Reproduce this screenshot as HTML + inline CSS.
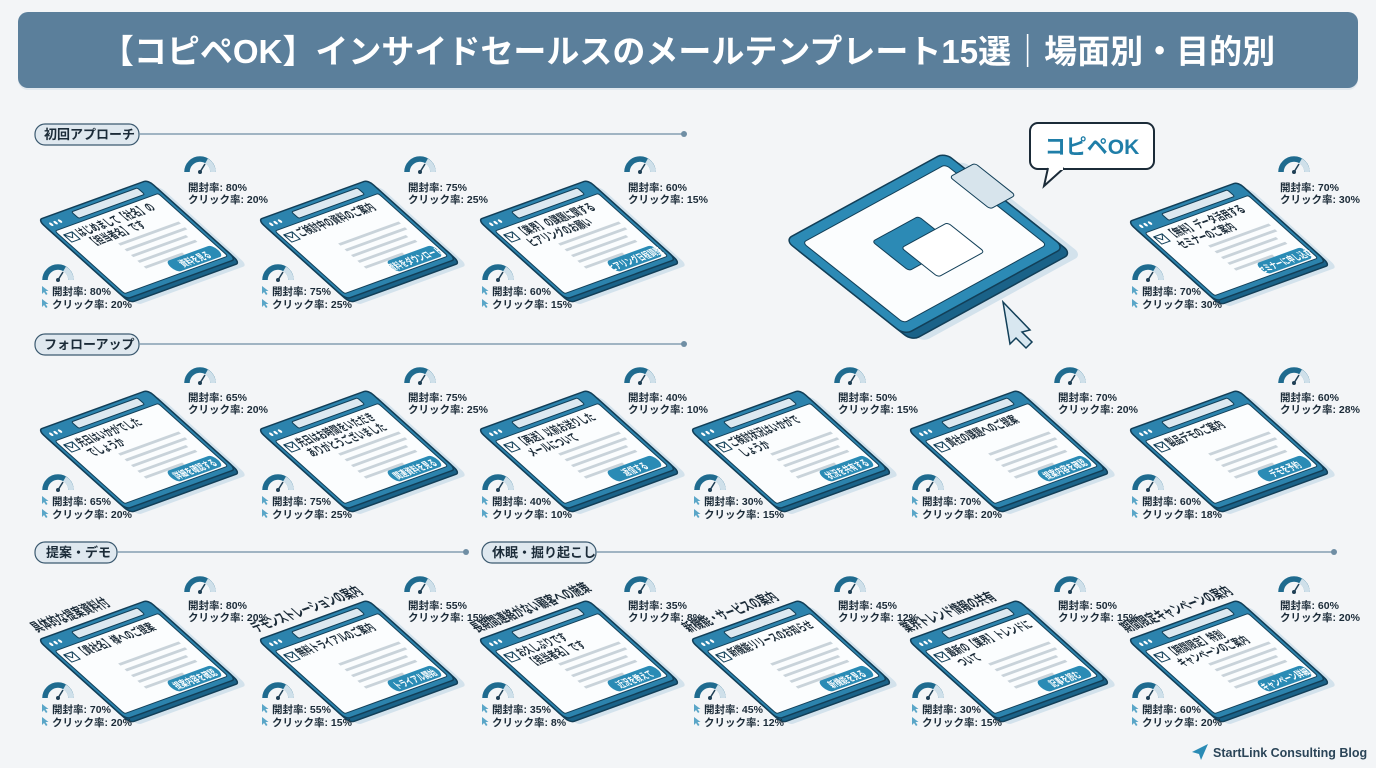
<!DOCTYPE html>
<html><head><meta charset="utf-8">
<style>
html,body{margin:0;padding:0;background:#f3f5f7;}
svg{display:block;font-family:"Liberation Sans","Noto Sans CJK JP",sans-serif;}
.st{font-size:10.5px;font-weight:bold;fill:#1b2b38;}
.sub{font-size:12.5px;font-weight:bold;fill:#1b2b38;}
.btn{font-size:10.5px;font-weight:bold;fill:#fff;}
.lab{font-size:13px;font-weight:bold;fill:#1b2b38;}
.ttl{font-size:15px;font-weight:bold;fill:#1b2b38;}
</style></head><body>
<svg width="1376" height="768" viewBox="0 0 1376 768" xmlns="http://www.w3.org/2000/svg">
<defs>
<g id="shell">
  <rect x="6" y="10" width="200" height="110" rx="7" fill="#d3e2ec"/>
  <rect x="0" y="5" width="200" height="110" rx="7" fill="#1a6288" stroke="#123f58" stroke-width="1.5" vector-effect="non-scaling-stroke"/>
  <rect x="0" y="0" width="200" height="110" rx="7" fill="#2c83ad" stroke="#123f58" stroke-width="1.5" vector-effect="non-scaling-stroke"/>
  <rect x="6" y="17" width="188" height="87" rx="3" fill="#fbfdfe" stroke="#123f58" stroke-width="1" vector-effect="non-scaling-stroke"/>
  <circle cx="11" cy="9" r="2.3" fill="#fff"/><circle cx="19" cy="9" r="2.3" fill="#fff"/><circle cx="27" cy="9" r="2.3" fill="#fff"/>
  <rect x="55" y="4" width="120" height="9" rx="2" fill="#dce8f0" stroke="#123f58" stroke-width="1" vector-effect="non-scaling-stroke"/>
  <rect x="12" y="24" width="15" height="10" fill="#fff" stroke="#123f58" stroke-width="1" vector-effect="non-scaling-stroke"/>
  <path d="M12 24 L19.5 30 L27 24" fill="none" stroke="#123f58" stroke-width="1" vector-effect="non-scaling-stroke"/>
  <g fill="#c9d3da"><rect x="70" y="52" width="110" height="3"/><rect x="70" y="60" width="110" height="3"/><rect x="70" y="68" width="100" height="3"/><rect x="70" y="76" width="105" height="3"/><rect x="70" y="84" width="70" height="3"/></g>
  <rect x="104" y="87" width="86" height="15" rx="7.5" fill="#2a8bb5"/>
</g>
<g id="gauge">
  <path d="M-13 0 A13 13 0 0 1 13 0" fill="none" stroke="#1f6b8f" stroke-width="5.5"/>
  <path d="M6.5 -11 A13 13 0 0 1 13 0" fill="none" stroke="#cfe0ea" stroke-width="5.5"/>
  <line x1="0" y1="0" x2="5" y2="-8" stroke="#1f3f55" stroke-width="1.5"/><circle cx="0" cy="0" r="2" fill="#1f3f55"/>
</g>
<path id="cur" d="M0 0 L0 8 L2 6 L4 9 L5.5 8 L3.5 5 L6.5 5Z" fill="#5aa6c8"/>
</defs>

<rect x="18" y="14" width="1340" height="76" rx="10" fill="#e1e8ee"/>
<rect x="18" y="12" width="1340" height="76" rx="10" fill="#5b7f9b"/>
<text x="688" y="63" text-anchor="middle" font-size="33" font-weight="bold" fill="#fff">【コピペOK】インサイドセールスのメールテンプレート15選｜場面別・目的別</text>

<g>
<rect x="35" y="124" width="104" height="21" rx="10" fill="#dfe8ef" stroke="#3c5a70" stroke-width="1.2"/>
<text x="44" y="139" class="lab">初回アプローチ</text>
<line x1="139" y1="134" x2="684" y2="134" stroke="#6f8ea4" stroke-width="1.2"/><circle cx="684" cy="134" r="3" fill="#6f8ea4"/>
<rect x="35" y="334" width="104" height="21" rx="10" fill="#dfe8ef" stroke="#3c5a70" stroke-width="1.2"/>
<text x="44" y="349" class="lab">フォローアップ</text>
<line x1="139" y1="344" x2="684" y2="344" stroke="#6f8ea4" stroke-width="1.2"/><circle cx="684" cy="344" r="3" fill="#6f8ea4"/>
<rect x="35" y="542" width="82" height="21" rx="10" fill="#dfe8ef" stroke="#3c5a70" stroke-width="1.2"/>
<text x="46" y="557" class="lab">提案・デモ</text>
<line x1="117" y1="552" x2="466" y2="552" stroke="#6f8ea4" stroke-width="1.2"/><circle cx="466" cy="552" r="3" fill="#6f8ea4"/>
<rect x="482" y="542" width="114" height="21" rx="10" fill="#dfe8ef" stroke="#3c5a70" stroke-width="1.2"/>
<text x="492" y="557" class="lab">休眠・掘り起こし</text>
<line x1="596" y1="552" x2="1334" y2="552" stroke="#6f8ea4" stroke-width="1.2"/><circle cx="1334" cy="552" r="3" fill="#6f8ea4"/>
</g>

<g transform="translate(785,240)">
 <g transform="matrix(0.84,-0.46,0.92,0.73,0,0)">
  <rect x="6" y="14" width="190" height="130" rx="8" fill="#d3e2ec"/>
  <rect x="0" y="8" width="190" height="130" rx="8" fill="#1a6288" stroke="#123f58" stroke-width="1.5" vector-effect="non-scaling-stroke"/>
  <rect x="0" y="0" width="190" height="130" rx="8" fill="#2c8ab5" stroke="#123f58" stroke-width="1.5" vector-effect="non-scaling-stroke"/>
  <rect x="10" y="10" width="170" height="110" rx="4" fill="#fbfdfe" stroke="#123f58" stroke-width="1" vector-effect="non-scaling-stroke"/>
  <rect x="172" y="22" width="30" height="44" rx="3" fill="#d7e4ec" stroke="#123f58" stroke-width="1" vector-effect="non-scaling-stroke"/>
  <rect x="60" y="40" width="55" height="40" rx="3" fill="#2c8ab5" stroke="#123f58" stroke-width="1" vector-effect="non-scaling-stroke"/>
  <rect x="75" y="58" width="55" height="40" rx="3" fill="#fff" stroke="#123f58" stroke-width="1" vector-effect="non-scaling-stroke"/>
 </g>
</g>
<path d="M1003 302 L1030 330 L1022 332 L1032 342 L1026 348 L1016 338 L1010 344 Z" fill="#d8e7f0" stroke="#123f58" stroke-width="1.5"/>
<rect x="1030" y="123" width="124" height="46" rx="8" fill="#fff" stroke="#1b2b38" stroke-width="2"/>
<path d="M1048 168 L1044 186 L1064 168" fill="#fff" stroke="#1b2b38" stroke-width="2"/>
<rect x="1049" y="166" width="14" height="4" fill="#fff"/>
<text x="1092" y="154" text-anchor="middle" font-size="21" font-weight="bold" fill="#1f7ea8">コピペOK</text>

<g transform="translate(38,220)"><g transform="matrix(0.55,-0.2,0.8,0.72,0,0)"><use href="#shell"/>
<text x="32" y="32" class="sub">はじめまして【社名】の</text><text x="32" y="46" class="sub">【担当者名】です</text><text x="147" y="99" class="btn" text-anchor="middle">資料を見る</text></g></g>
<g transform="translate(258,220)"><g transform="matrix(0.55,-0.2,0.8,0.72,0,0)"><use href="#shell"/>
<text x="32" y="32" class="sub">ご検討中の資料のご案内</text><text x="147" y="99" class="btn" text-anchor="middle">資料をダウンロード</text></g></g>
<g transform="translate(478,220)"><g transform="matrix(0.55,-0.2,0.8,0.72,0,0)"><use href="#shell"/>
<text x="32" y="32" class="sub">【業界】の課題に関する</text><text x="32" y="46" class="sub">ヒアリングのお願い</text><text x="147" y="99" class="btn" text-anchor="middle">ヒアリング日程調整</text></g></g>
<g transform="translate(1128,222)"><g transform="matrix(0.55,-0.2,0.8,0.72,0,0)"><use href="#shell"/>
<text x="32" y="32" class="sub">【無料】データ活用する</text><text x="32" y="46" class="sub">セミナーのご案内</text><text x="147" y="99" class="btn" text-anchor="middle">セミナーに申し込む</text></g></g>

<g transform="translate(38,430)"><g transform="matrix(0.55,-0.2,0.8,0.72,0,0)"><use href="#shell"/>
<text x="32" y="32" class="sub">先日はいかがでした</text><text x="32" y="46" class="sub">でしょうか</text><text x="147" y="99" class="btn" text-anchor="middle">詳細を確認する</text></g></g>
<g transform="translate(258,430)"><g transform="matrix(0.55,-0.2,0.8,0.72,0,0)"><use href="#shell"/>
<text x="32" y="32" class="sub">先日はお時間をいただき</text><text x="32" y="46" class="sub">ありがとうございました</text><text x="147" y="99" class="btn" text-anchor="middle">関連資料を見る</text></g></g>
<g transform="translate(478,430)"><g transform="matrix(0.55,-0.2,0.8,0.72,0,0)"><use href="#shell"/>
<text x="32" y="32" class="sub">【再送】以前お送りした</text><text x="32" y="46" class="sub">メールについて</text><text x="147" y="99" class="btn" text-anchor="middle">返信する</text></g></g>
<g transform="translate(690,430)"><g transform="matrix(0.55,-0.2,0.8,0.72,0,0)"><use href="#shell"/>
<text x="32" y="32" class="sub">ご検討状況はいかがで</text><text x="32" y="46" class="sub">しょうか</text><text x="147" y="99" class="btn" text-anchor="middle">状況を共有する</text></g></g>
<g transform="translate(908,430)"><g transform="matrix(0.55,-0.2,0.8,0.72,0,0)"><use href="#shell"/>
<text x="32" y="32" class="sub">貴社の課題へのご提案</text><text x="147" y="99" class="btn" text-anchor="middle">提案内容を確認</text></g></g>
<g transform="translate(1128,430)"><g transform="matrix(0.55,-0.2,0.8,0.72,0,0)"><use href="#shell"/>
<text x="32" y="32" class="sub">製品デモのご案内</text><text x="147" y="99" class="btn" text-anchor="middle">デモを予約</text></g></g>

<g transform="translate(38,640)"><g transform="matrix(0.55,-0.2,0.8,0.72,0,0)"><use href="#shell"/>
<text x="10" y="-8" class="ttl">具体的な提案資料付</text>
<text x="32" y="32" class="sub">【貴社名】様へのご提案</text><text x="147" y="99" class="btn" text-anchor="middle">提案内容を確認</text></g></g>
<g transform="translate(258,640)"><g transform="matrix(0.55,-0.2,0.8,0.72,0,0)"><use href="#shell"/>
<text x="10" y="-8" class="ttl">デモンストレーションの案内</text>
<text x="32" y="32" class="sub">無料トライアルのご案内</text><text x="147" y="99" class="btn" text-anchor="middle">トライアル開始</text></g></g>
<g transform="translate(478,640)"><g transform="matrix(0.55,-0.2,0.8,0.72,0,0)"><use href="#shell"/>
<text x="10" y="-8" class="ttl">長期間連絡がない顧客への施策</text>
<text x="32" y="32" class="sub">お久しぶりです</text><text x="32" y="46" class="sub">【担当者名】です</text><text x="147" y="99" class="btn" text-anchor="middle">近況を教えて</text></g></g>
<g transform="translate(690,640)"><g transform="matrix(0.55,-0.2,0.8,0.72,0,0)"><use href="#shell"/>
<text x="10" y="-8" class="ttl">新機能・サービスの案内</text>
<text x="32" y="32" class="sub">新機能リリースのお知らせ</text><text x="147" y="99" class="btn" text-anchor="middle">新機能を見る</text></g></g>
<g transform="translate(908,640)"><g transform="matrix(0.55,-0.2,0.8,0.72,0,0)"><use href="#shell"/>
<text x="10" y="-8" class="ttl">業界トレンド情報の共有</text>
<text x="32" y="32" class="sub">最新の【業界】トレンドに</text><text x="32" y="46" class="sub">ついて</text><text x="147" y="99" class="btn" text-anchor="middle">記事を読む</text></g></g>
<g transform="translate(1128,640)"><g transform="matrix(0.55,-0.2,0.8,0.72,0,0)"><use href="#shell"/>
<text x="10" y="-8" class="ttl">期間限定キャンペーンの案内</text>
<text x="32" y="32" class="sub">【期間限定】特別</text><text x="32" y="46" class="sub">キャンペーンのご案内</text><text x="147" y="99" class="btn" text-anchor="middle">キャンペーン詳細</text></g></g>

<use href="#gauge" x="200" y="172"/><text x="188" y="191" class="st">開封率: 80%</text><text x="188" y="203" class="st">クリック率: 20%</text>
<use href="#gauge" x="58" y="280"/><use href="#cur" x="42" y="286"/><use href="#cur" x="42" y="299"/><text x="52" y="295" class="st">開封率: 80%</text><text x="52" y="308" class="st">クリック率: 20%</text>
<use href="#gauge" x="420" y="172"/><text x="408" y="191" class="st">開封率: 75%</text><text x="408" y="203" class="st">クリック率: 25%</text>
<use href="#gauge" x="278" y="280"/><use href="#cur" x="262" y="286"/><use href="#cur" x="262" y="299"/><text x="272" y="295" class="st">開封率: 75%</text><text x="272" y="308" class="st">クリック率: 25%</text>
<use href="#gauge" x="640" y="172"/><text x="628" y="191" class="st">開封率: 60%</text><text x="628" y="203" class="st">クリック率: 15%</text>
<use href="#gauge" x="498" y="280"/><use href="#cur" x="482" y="286"/><use href="#cur" x="482" y="299"/><text x="492" y="295" class="st">開封率: 60%</text><text x="492" y="308" class="st">クリック率: 15%</text>
<use href="#gauge" x="1294" y="172"/><text x="1280" y="191" class="st">開封率: 70%</text><text x="1280" y="203" class="st">クリック率: 30%</text>
<use href="#gauge" x="1148" y="280"/><use href="#cur" x="1132" y="286"/><use href="#cur" x="1132" y="299"/><text x="1142" y="295" class="st">開封率: 70%</text><text x="1142" y="308" class="st">クリック率: 30%</text>
<use href="#gauge" x="200" y="383"/><text x="188" y="401" class="st">開封率: 65%</text><text x="188" y="413" class="st">クリック率: 20%</text>
<use href="#gauge" x="58" y="490"/><use href="#cur" x="42" y="496"/><use href="#cur" x="42" y="509"/><text x="52" y="505" class="st">開封率: 65%</text><text x="52" y="518" class="st">クリック率: 20%</text>
<use href="#gauge" x="420" y="383"/><text x="408" y="401" class="st">開封率: 75%</text><text x="408" y="413" class="st">クリック率: 25%</text>
<use href="#gauge" x="278" y="490"/><use href="#cur" x="262" y="496"/><use href="#cur" x="262" y="509"/><text x="272" y="505" class="st">開封率: 75%</text><text x="272" y="518" class="st">クリック率: 25%</text>
<use href="#gauge" x="640" y="383"/><text x="628" y="401" class="st">開封率: 40%</text><text x="628" y="413" class="st">クリック率: 10%</text>
<use href="#gauge" x="498" y="490"/><use href="#cur" x="482" y="496"/><use href="#cur" x="482" y="509"/><text x="492" y="505" class="st">開封率: 40%</text><text x="492" y="518" class="st">クリック率: 10%</text>
<use href="#gauge" x="850" y="383"/><text x="838" y="401" class="st">開封率: 50%</text><text x="838" y="413" class="st">クリック率: 15%</text>
<use href="#gauge" x="710" y="490"/><use href="#cur" x="694" y="496"/><use href="#cur" x="694" y="509"/><text x="704" y="505" class="st">開封率: 30%</text><text x="704" y="518" class="st">クリック率: 15%</text>
<use href="#gauge" x="1070" y="383"/><text x="1058" y="401" class="st">開封率: 70%</text><text x="1058" y="413" class="st">クリック率: 20%</text>
<use href="#gauge" x="928" y="490"/><use href="#cur" x="912" y="496"/><use href="#cur" x="912" y="509"/><text x="922" y="505" class="st">開封率: 70%</text><text x="922" y="518" class="st">クリック率: 20%</text>
<use href="#gauge" x="1294" y="383"/><text x="1280" y="401" class="st">開封率: 60%</text><text x="1280" y="413" class="st">クリック率: 28%</text>
<use href="#gauge" x="1148" y="490"/><use href="#cur" x="1132" y="496"/><use href="#cur" x="1132" y="509"/><text x="1142" y="505" class="st">開封率: 60%</text><text x="1142" y="518" class="st">クリック率: 18%</text>
<use href="#gauge" x="200" y="592"/><text x="188" y="609" class="st">開封率: 80%</text><text x="188" y="621" class="st">クリック率: 20%</text>
<use href="#gauge" x="58" y="698"/><use href="#cur" x="42" y="704"/><use href="#cur" x="42" y="717"/><text x="52" y="713" class="st">開封率: 70%</text><text x="52" y="726" class="st">クリック率: 20%</text>
<use href="#gauge" x="420" y="592"/><text x="408" y="609" class="st">開封率: 55%</text><text x="408" y="621" class="st">クリック率: 15%</text>
<use href="#gauge" x="278" y="698"/><use href="#cur" x="262" y="704"/><use href="#cur" x="262" y="717"/><text x="272" y="713" class="st">開封率: 55%</text><text x="272" y="726" class="st">クリック率: 15%</text>
<use href="#gauge" x="640" y="592"/><text x="628" y="609" class="st">開封率: 35%</text><text x="628" y="621" class="st">クリック率: 8%</text>
<use href="#gauge" x="498" y="698"/><use href="#cur" x="482" y="704"/><use href="#cur" x="482" y="717"/><text x="492" y="713" class="st">開封率: 35%</text><text x="492" y="726" class="st">クリック率: 8%</text>
<use href="#gauge" x="850" y="592"/><text x="838" y="609" class="st">開封率: 45%</text><text x="838" y="621" class="st">クリック率: 12%</text>
<use href="#gauge" x="710" y="698"/><use href="#cur" x="694" y="704"/><use href="#cur" x="694" y="717"/><text x="704" y="713" class="st">開封率: 45%</text><text x="704" y="726" class="st">クリック率: 12%</text>
<use href="#gauge" x="1070" y="592"/><text x="1058" y="609" class="st">開封率: 50%</text><text x="1058" y="621" class="st">クリック率: 15%</text>
<use href="#gauge" x="928" y="698"/><use href="#cur" x="912" y="704"/><use href="#cur" x="912" y="717"/><text x="922" y="713" class="st">開封率: 30%</text><text x="922" y="726" class="st">クリック率: 15%</text>
<use href="#gauge" x="1294" y="592"/><text x="1280" y="609" class="st">開封率: 60%</text><text x="1280" y="621" class="st">クリック率: 20%</text>
<use href="#gauge" x="1148" y="698"/><use href="#cur" x="1132" y="704"/><use href="#cur" x="1132" y="717"/><text x="1142" y="713" class="st">開封率: 60%</text><text x="1142" y="726" class="st">クリック率: 20%</text>

<path d="M1192 752 L1208 744 L1201 760 L1199 754 Z" fill="#2a8bb5"/>
<text x="1213" y="757" font-size="12.5" font-weight="bold" fill="#2b4558">StartLink Consulting Blog</text>
</svg>
</body></html>
